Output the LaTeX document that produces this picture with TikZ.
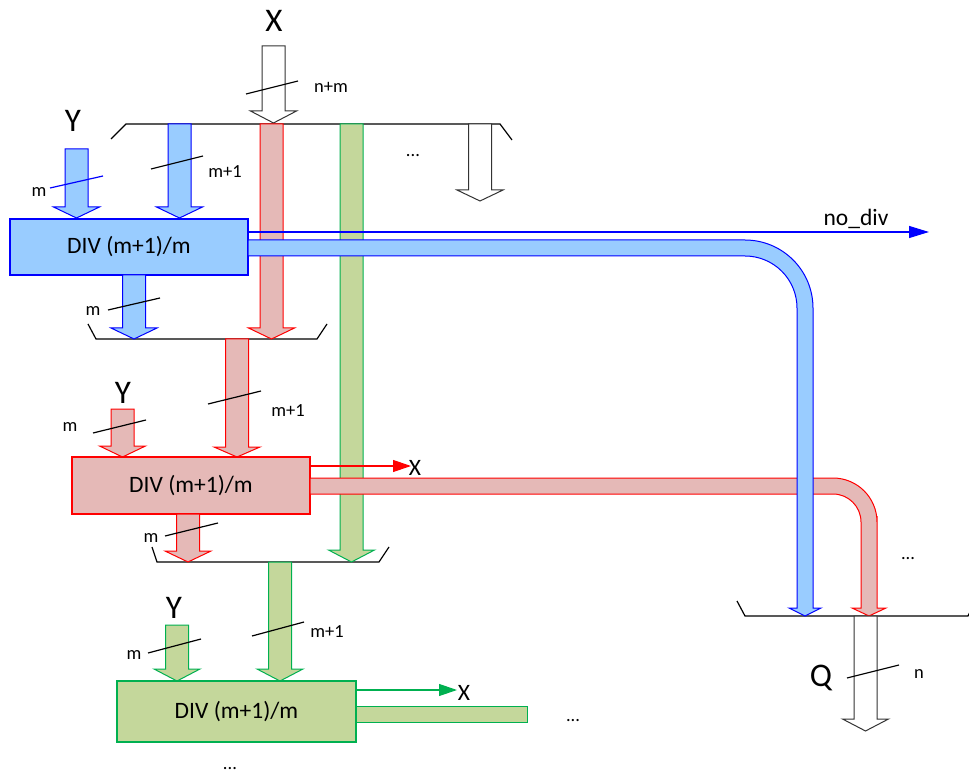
\documentclass[tikz,border=0pt]{standalone}
\usepackage{fontspec}
\setmainfont{Carlito}
\usetikzlibrary{arrows.meta}
\definecolor{bfill}{HTML}{99CCFF}
\definecolor{bline}{HTML}{0000FF}
\definecolor{rfill}{HTML}{E5B9B7}
\definecolor{rline}{HTML}{FF0000}
\definecolor{gfill}{HTML}{C4D79B}
\definecolor{gline}{HTML}{00B050}
\newcommand\blockarrow[5]{\draw[#1] ({#2-11.5},#3) -- ({#2+11.5},#3) -- ({#2+11.5},#4) -- ({#2+23},#4) -- (#2,#5) -- ({#2-23},#4) -- ({#2-11.5},#4) -- cycle;}
\begin{document}
\begin{tikzpicture}[x=1pt,y=-1pt,line join=miter,
  arB/.style={fill=bfill,draw=bline,line width=1pt},
  arR/.style={fill=rfill,draw=rline,line width=1pt},
  arG/.style={fill=gfill,draw=gline,line width=1pt},
  arW/.style={fill=white,draw=black!80,line width=1pt},
  bus/.style={draw=black,line width=1.2pt},
  slash/.style={draw=black,line width=1.2pt},
  lbl/.style={font=\fontsize{18.5}{20}\selectfont,inner sep=0pt},
  big/.style={font=\fontsize{33}{36}\selectfont,inner sep=0pt},
  mid/.style={font=\fontsize{23.5}{26}\selectfont,inner sep=0pt},
  divbox/.style={minimum width=238pt,minimum height=56pt,line width=1.8pt,inner sep=0pt,font=\fontsize{23.5}{26}\selectfont}]
\useasboundingbox (0,0) rectangle (969,775);

% buses
\draw[bus] (111,139) -- (126,124) -- (500,124) -- (512,140);
\draw[bus] (88,324) -- (96,339) -- (317,339) -- (327,324);
\draw[bus] (152,547) -- (157,562) -- (379,562) -- (389,547);
\draw[bus] (737,601) -- (745,616) -- (968,616) -- (973,606);

% X input and top "..." arrow
\blockarrow{arW}{273.5}{46}{111}{123}
\blockarrow{arW}{480}{124}{190}{201}

% long vertical arrows (green lowest, then red)
\blockarrow{arG}{351.5}{124}{550}{562}
\blockarrow{arR}{271.5}{124}{328}{339}

% stage 1 (blue)
\blockarrow{arB}{76.5}{149}{207}{218}
\blockarrow{arB}{179.5}{124}{207}{218}
\node[divbox,draw=bline,fill=bfill] (bdiv) at (129,247) {DIV (m+1)/m};
\blockarrow{arB}{134}{275}{328}{339}

% stage 2 (red)
\blockarrow{arR}{122.5}{409}{446}{457}
\blockarrow{arR}{237}{339}{447}{457}
\node[divbox,draw=rline,fill=rfill,minimum height=57pt] (rdiv) at (191,485.5) {DIV (m+1)/m};
\blockarrow{arR}{188}{514}{551}{562}
\draw[arR] (310,478) -- (500,478) [rounded corners=44pt] -- (877,478) -- (877,560) [sharp corners] -- (877,608) -- (886,608) -- (869,616) -- (852,608) -- (861,608) -- (861,560) [rounded corners=28pt] -- (861,494) -- (500,494) [sharp corners] -- (310,494) -- cycle;
\coordinate (rx) at (411,466);
\draw[rline,line width=1.2pt,-{Triangle[length=18pt,width=12pt]}] (rdiv.east |- rx) -- (rx);

% stage 1 outputs (blue, on top)
\draw[arB] (248,240) -- (600,240) [rounded corners=68pt] -- (813,240) -- (813,420) [sharp corners] -- (813,608) -- (821,608) -- (805,616) -- (789,608) -- (797,608) -- (797,500) [rounded corners=52pt] -- (797,256) -- (600,256) [sharp corners] -- (248,256) -- cycle;
\coordinate (nodiv) at (929,232);
\draw[bline,line width=1.2pt,-{Triangle[length=20pt,width=12pt]}] (bdiv.east |- nodiv) -- (nodiv);

% stage 3 (green)
\blockarrow{arG}{177}{625}{669}{681}
\blockarrow{arG}{280}{562}{669}{681}
\node[divbox,draw=gline,fill=gfill,minimum width=239pt,minimum height=61pt] (gdiv) at (236.5,711.5) {DIV (m+1)/m};
\draw[arG] (gdiv.east |- 0,706) rectangle (527,722);
\coordinate (gx) at (457,690);
\draw[gline,line width=1.2pt,-{Triangle[length=18pt,width=12pt]}] (gdiv.east |- gx) -- (gx);

% Q output
\blockarrow{arW}{865.5}{616}{719}{731}

% slashes
\draw[slash] (246,94) -- (298,81);
\draw[slash] (151,169) -- (203,156);
\draw[slash,draw=bline] (50,188) -- (103,176);
\draw[slash] (108,310) -- (160,298);
\draw[slash] (208,404) -- (261,391);
\draw[slash] (93,433) -- (146,420);
\draw[slash] (165,536) -- (218,523);
\draw[slash] (252,636) -- (304,622);
\draw[slash] (148,653) -- (201,639);
\draw[slash] (847,678) -- (899,665);

% labels
\node[big] (lX) at (274,21) {X};
\node[lbl] (lnm) at (331,87) {n+m};
\node[big] (lY1) at (73,121) {Y};
\node[lbl] (lm1) at (39,192) {m};
\node[lbl] (lm1a) at (225,172) {m+1};
\node[lbl] (ld1) at (413,156) {...};
\node[mid] (lnodiv) at (856,219) {no\_div};
\node[lbl] (lm2) at (93,311) {m};
\node[big] (lY2) at (123,393) {Y};
\node[lbl] (lm2a) at (288,411) {m+1};
\node[lbl] (lm2b) at (70,427) {m};
\node[mid] (lX2) at (415,468) {X};
\node[lbl] (lm3) at (151,538) {m};
\node[lbl] (ld2) at (908,559) {...};
\node[big] (lY3) at (174,608) {Y};
\node[lbl] (lm3b) at (134,655) {m};
\node[lbl] (lm3a) at (327,632) {m+1};
\node[mid] (lX3) at (464,693) {X};
\node[lbl] (ld3) at (573,721) {...};
\node[big] (lQ) at (821,678) {Q};
\node[lbl] (ln) at (919,674) {n};
\node[lbl] (ld4) at (230,769) {...};
\end{tikzpicture}
\end{document}
